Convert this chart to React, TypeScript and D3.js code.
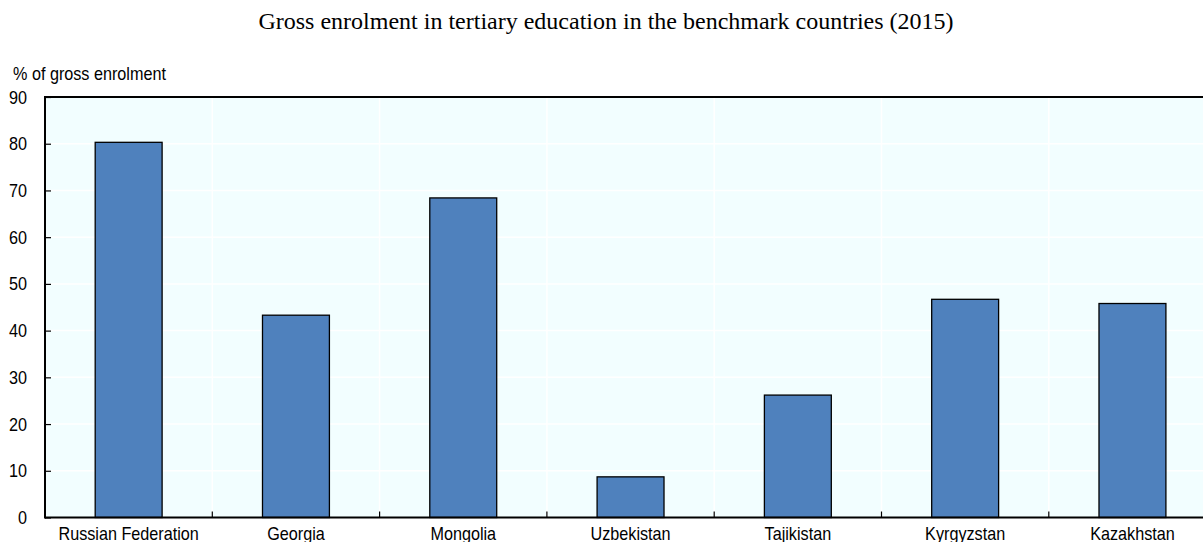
import { useRef, useEffect } from "react";
import * as d3 from "d3";

const countries = [
  "Russian Federation",
  "Georgia",
  "Mongolia",
  "Uzbekistan",
  "Tajikistan",
  "Kyrgyzstan",
  "Kazakhstan",
];
const enrolment = [80.3, 43.3, 68.4, 8.7, 26.2, 46.7, 45.8];
const yTicks = [0, 10, 20, 30, 40, 50, 60, 70, 80, 90];

const title = "Gross enrolment in tertiary education in the benchmark countries (2015)";
const yLabel = "% of gross enrolment";

const width = 1203;
const height = 542;
const font = "'Liberation Sans', Arial, sans-serif";
// narrow look: scale Arial horizontally
const squeeze = 0.9;

const App = () => {
  const svgRef = useRef<SVGSVGElement | null>(null);

  useEffect(() => {
    if (!svgRef.current) return;
    const svg = d3.select(svgRef.current);
    svg.selectAll("*").remove();

    const margin = { top: 97, left: 45, bottom: 24.5 };
    const plotRight = 45 + 7 * 167.3;
    const innerBottom = height - margin.bottom;

    const data = countries.map((c, i) => ({ name: c, value: enrolment[i] }));

    const x = d3
      .scaleBand()
      .domain(countries)
      .range([margin.left, plotRight])
      .paddingInner(0.6)
      .paddingOuter(0.3);

    const y = d3.scaleLinear().domain([0, 90]).range([innerBottom, margin.top]);

    // title
    svg
      .append("text")
      .attr("x", 606)
      .attr("y", 29)
      .attr("text-anchor", "middle")
      .attr("font-family", "'Liberation Serif', 'Times New Roman', serif")
      .attr("font-size", 24)
      .text(title);

    // y label
    svg
      .append("text")
      .attr("transform", `translate(13,80) scale(${squeeze},1)`)
      .attr("font-family", font)
      .attr("font-size", 18)
      .text(yLabel);

    // plot background
    svg
      .append("rect")
      .attr("x", margin.left)
      .attr("y", margin.top)
      .attr("width", plotRight - margin.left)
      .attr("height", innerBottom - margin.top)
      .attr("fill", "#f2feff");

    // horizontal gridlines
    svg
      .append("g")
      .selectAll("line")
      .data(yTicks.slice(1, -1))
      .enter()
      .append("line")
      .attr("x1", margin.left)
      .attr("x2", plotRight)
      .attr("y1", (d) => y(d))
      .attr("y2", (d) => y(d))
      .attr("stroke", "#ffffff")
      .attr("stroke-width", 1.5);

    // vertical gridlines at category boundaries
    const step = x.step();
    const bounds = countries.slice(1).map((_, i) => margin.left + step * (i + 1));
    svg
      .append("g")
      .selectAll("line")
      .data(bounds)
      .enter()
      .append("line")
      .attr("x1", (d) => d)
      .attr("x2", (d) => d)
      .attr("y1", margin.top)
      .attr("y2", innerBottom)
      .attr("stroke", "#ffffff")
      .attr("stroke-width", 1.5);

    // bars
    svg
      .append("g")
      .selectAll("rect")
      .data(data)
      .enter()
      .append("rect")
      .attr("x", (d) => x(d.name)!)
      .attr("y", (d) => y(d.value))
      .attr("width", x.bandwidth())
      .attr("height", (d) => innerBottom - y(d.value))
      .attr("fill", "#4f81bd")
      .attr("stroke", "#000000")
      .attr("stroke-width", 1.3);

    // category ticks (inward)
    svg
      .append("g")
      .selectAll("line")
      .data(bounds)
      .enter()
      .append("line")
      .attr("x1", (d) => d)
      .attr("x2", (d) => d)
      .attr("y1", innerBottom)
      .attr("y2", innerBottom - 6)
      .attr("stroke", "#000000")
      .attr("stroke-width", 1.2);

    // y axis (ticks inward)
    const yAxis = d3
      .axisRight(y)
      .tickValues(yTicks)
      .tickSize(6)
      .tickFormat(() => "");
    const yg = svg
      .append("g")
      .attr("transform", `translate(${margin.left},0)`)
      .call(yAxis);
    yg.select(".domain").remove();
    yg.selectAll(".tick line").attr("stroke", "#000").attr("stroke-width", 1.2);

    svg
      .append("g")
      .selectAll("text")
      .data(yTicks)
      .enter()
      .append("text")
      .attr("transform", (d) => `translate(27,${y(d) + 6.5}) scale(${squeeze},1)`)
      .attr("text-anchor", "end")
      .attr("font-family", font)
      .attr("font-size", 18)
      .text((d) => String(d));

    // frame lines: top, left, bottom
    svg
      .append("line")
      .attr("x1", margin.left)
      .attr("x2", plotRight)
      .attr("y1", margin.top)
      .attr("y2", margin.top)
      .attr("stroke", "#000")
      .attr("stroke-width", 2);
    svg
      .append("line")
      .attr("x1", margin.left)
      .attr("x2", margin.left)
      .attr("y1", margin.top - 1)
      .attr("y2", innerBottom + 1)
      .attr("stroke", "#000")
      .attr("stroke-width", 2);
    svg
      .append("line")
      .attr("x1", margin.left)
      .attr("x2", plotRight)
      .attr("y1", innerBottom)
      .attr("y2", innerBottom)
      .attr("stroke", "#000")
      .attr("stroke-width", 2);

    // category labels (clipped at the bottom edge, as in the source)
    svg
      .append("g")
      .selectAll("text")
      .data(countries)
      .enter()
      .append("text")
      .attr(
        "transform",
        (d) => `translate(${x(d)! + x.bandwidth() / 2},${innerBottom + 22}) scale(${squeeze},1)`
      )
      .attr("text-anchor", "middle")
      .attr("font-family", font)
      .attr("font-size", 18)
      .text((d) => d);
  }, []);

  return (
    <svg
      ref={svgRef}
      width={width}
      height={height}
      style={{ position: "absolute", left: 0, top: 0, display: "block" }}
    ></svg>
  );
};

export default App;
